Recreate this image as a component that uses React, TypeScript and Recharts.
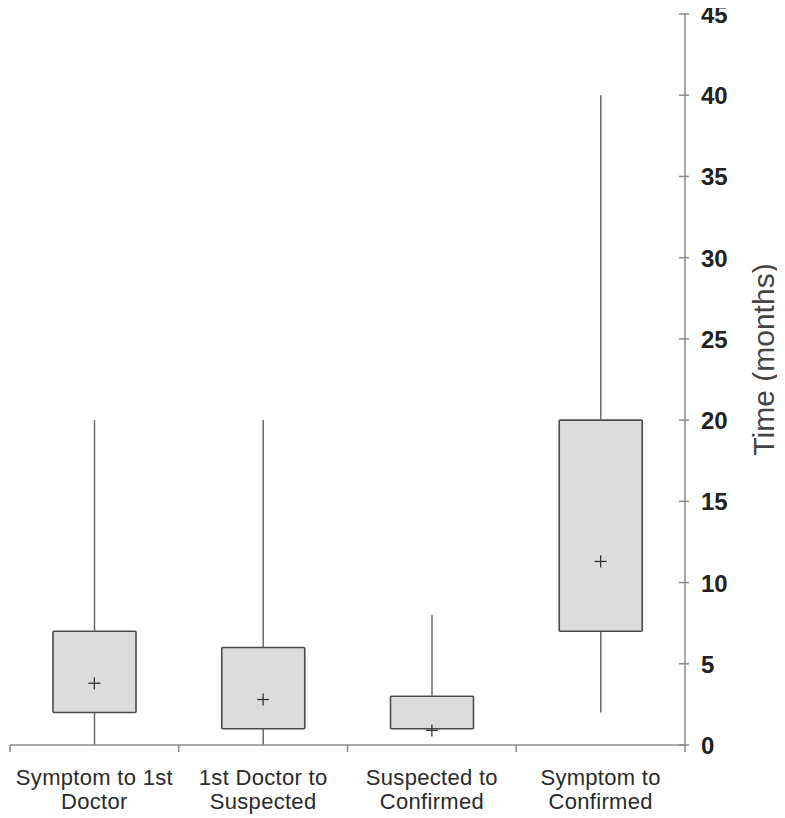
import { ComposedChart, Bar, Scatter, XAxis, YAxis } from 'recharts';

const categories = [
  ['Symptom to 1st', 'Doctor'],
  ['1st Doctor to', 'Suspected'],
  ['Suspected to', 'Confirmed'],
  ['Symptom to', 'Confirmed'],
];
const positions = [0.5, 1.5, 2.5, 3.5];
const minValues = [0, 0, 1, 2];
const q1Values = [2, 1, 1, 7];
const q3Values = [7, 6, 3, 20];
const maxValues = [20, 20, 8, 40];
const meanValues = [3.8, 2.8, 0.9, 11.3];
const yTicks = [0, 5, 10, 15, 20, 25, 30, 35, 40, 45];
const xTicks = [0, 0.5, 1, 1.5, 2, 2.5, 3, 3.5, 4];

const data = positions.map((pos, i) => ({
  pos,
  base: minValues[i],
  lower: q1Values[i] - minValues[i],
  box: q3Values[i] - q1Values[i],
  upper: maxValues[i] - q3Values[i],
  mean: meanValues[i],
}));

const FONT = '"Liberation Sans", Arial, sans-serif';
const AXIS = '#8a8a8a';

const Whisker = (props: any) => {
  const { x, y, width, height } = props;
  if (!height) return null;
  const cx = x + width / 2;
  return <line x1={cx} x2={cx} y1={y} y2={y + height} stroke="#6a6a6a" strokeWidth={1.5} />;
};

const BoxShape = (props: any) => {
  const { x, y, width, height } = props;
  return <rect x={x} y={y} width={width} height={height} fill="#dcdcdc" stroke="#4a4a4a" strokeWidth={1.6} rx={1} />;
};

const Plus = (props: any) => {
  const { cx, cy } = props;
  return (
    <g stroke="#333" strokeWidth={1.3}>
      <line x1={cx - 6} x2={cx + 6} y1={cy} y2={cy} />
      <line x1={cx} x2={cx} y1={cy - 6} y2={cy + 6} />
    </g>
  );
};

const XTick = (props: any) => {
  const { x, y, payload } = props;
  const v = payload.value;
  if (Number.isInteger(v)) {
    return <line x1={x} x2={x} y1={y} y2={y + 7} stroke={AXIS} strokeWidth={1.5} />;
  }
  const lines = categories[Math.floor(v)];
  return (
    <text x={x} y={y} textAnchor="middle" fill="#2a2a2a" fontSize={22} letterSpacing={0.3} fontFamily={FONT}>
      <tspan x={x} dy={40}>{lines[0]}</tspan>
      <tspan x={x} dy={24}>{lines[1]}</tspan>
    </text>
  );
};

const YTick = (props: any) => {
  const { x, y, payload } = props;
  return (
    <g>
      <line x1={x - 6} x2={x + 4} y1={y} y2={y} stroke={AXIS} strokeWidth={1.5} />
      <text x={x + 16} y={y + 9} fill="#222" fontSize={24} fontWeight="bold" fontFamily={FONT}>
        {payload.value}
      </text>
    </g>
  );
};

const YLabel = (props: any) => {
  const { viewBox } = props;
  const lx = viewBox.x + 78;
  const ly = viewBox.y + viewBox.height / 2 - 20;
  return (
    <text
      x={lx}
      y={ly}
      transform={`rotate(-90, ${lx}, ${ly})`}
      textAnchor="middle"
      dominantBaseline="central"
      fill="#444"
      fontSize={30}
      fontFamily={FONT}
    >
      Time (months)
    </text>
  );
};

export default function App() {
  return (
    <div>
      <style>{'.recharts-surface { overflow: visible; }'}</style>
      <ComposedChart
        width={777}
        height={810}
        data={data}
        margin={{ top: 6, right: 0, bottom: 0, left: 2 }}
      >
        <XAxis
          dataKey="pos"
          type="number"
          domain={[0, 4]}
          ticks={xTicks}
          interval={0}
          height={73}
          tickSize={0}
          tickMargin={0}
          tickLine={false}
          tick={<XTick />}
          axisLine={{ stroke: AXIS, strokeWidth: 1.5 }}
        />
        <YAxis
          orientation="right"
          type="number"
          domain={[0, 45]}
          ticks={yTicks}
          interval={0}
          width={100}
          tickSize={0}
          tickMargin={0}
          tickLine={false}
          tick={<YTick />}
          axisLine={{ stroke: AXIS, strokeWidth: 1.5 }}
          label={<YLabel />}
        />
        <Bar dataKey="base" stackId="b" fill="none" barSize={83} isAnimationActive={false} />
        <Bar dataKey="lower" stackId="b" barSize={83} shape={<Whisker />} isAnimationActive={false} />
        <Bar dataKey="box" stackId="b" barSize={83} shape={<BoxShape />} isAnimationActive={false} />
        <Bar dataKey="upper" stackId="b" barSize={83} shape={<Whisker />} isAnimationActive={false} />
        <Scatter dataKey="mean" shape={<Plus />} isAnimationActive={false} />
      </ComposedChart>
    </div>
  );
}
